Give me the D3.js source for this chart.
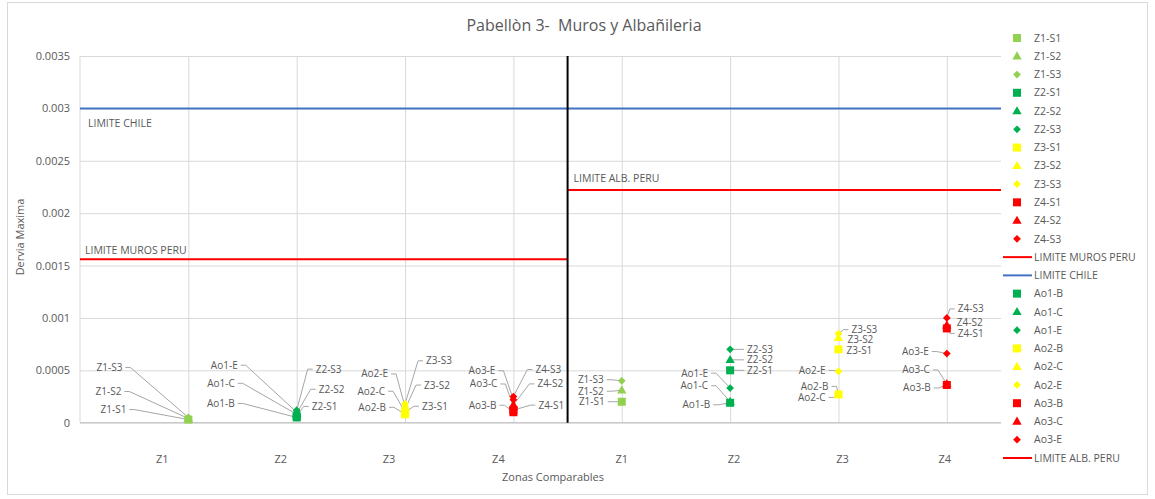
<!DOCTYPE html>
<html>
<head>
<meta charset="utf-8">
<script src="https://cdn.jsdelivr.net/npm/d3@7"></script>
<style>
  html, body { margin: 0; padding: 0; background: #fff; }
  svg { display: block; font-family: "Open Sans", "Liberation Sans", sans-serif; }
  text { white-space: pre; }
</style>
</head>
<body>
<svg id="chart" width="1155" height="499"></svg>
<script>
// ---------------- DATA ----------------
const title = "Pabellòn 3-  Muros y Albañileria";
const yTitle = "Dervia Maxima";
const xTitle = "Zonas Comparables";
const zoneLabels = ["Z1", "Z2", "Z3", "Z4", "Z1", "Z2", "Z3", "Z4"];
const zoneTicks = [1, 2, 3, 4, 5, 6, 7, 8];
const yTicks = [0, 0.0005, 0.001, 0.0015, 0.002, 0.0025, 0.003, 0.0035];

const seriesNames = ["Z1-S1", "Z1-S2", "Z1-S3", "Z2-S1", "Z2-S2", "Z2-S3",
  "Z3-S1", "Z3-S2", "Z3-S3", "Z4-S1", "Z4-S2", "Z4-S3",
  "Ao1-B", "Ao1-C", "Ao1-E", "Ao2-B", "Ao2-C", "Ao2-E", "Ao3-B", "Ao3-C", "Ao3-E"];
// zone index each series belongs to (x = zone in left half, zone + 4 in right half)
const seriesZone = [1, 1, 1, 2, 2, 2, 3, 3, 3, 4, 4, 4, 2, 2, 2, 3, 3, 3, 4, 4, 4];
// values in left half (x = 1..4)
const leftValues = [0.00003, 0.00004, 0.00005, 0.00006, 0.00009, 0.00012,
  0.0001, 0.00013, 0.00018, 0.00012, 0.00017, 0.00025,
  0.00005, 0.00008, 0.0001, 0.00008, 0.0001, 0.00015, 0.0001, 0.00015, 0.00022];
// values in right half (x = 5..8)
const rightValues = [0.0002, 0.00031, 0.0004, 0.0005, 0.0006, 0.0007,
  0.0007, 0.00081, 0.00085, 0.0009, 0.00093, 0.001,
  0.00019, 0.0002, 0.00033, 0.00027, 0.00027, 0.00049, 0.00036, 0.00037, 0.00066];

const refNames = ["LIMITE MUROS PERU", "LIMITE CHILE", "LIMITE ALB. PERU"];
const refValues = [0.00156, 0.003, 0.00222];
const refStart = [0, 0, 4.5];
const refEnd = [4.5, 8.5, 8.5];
const dividerX = 4.5;

// legend order
const legendOrder = ["Z1-S1", "Z1-S2", "Z1-S3", "Z2-S1", "Z2-S2", "Z2-S3",
  "Z3-S1", "Z3-S2", "Z3-S3", "Z4-S1", "Z4-S2", "Z4-S3",
  "LIMITE MUROS PERU", "LIMITE CHILE",
  "Ao1-B", "Ao1-C", "Ao1-E", "Ao2-B", "Ao2-C", "Ao2-E", "Ao3-B", "Ao3-C", "Ao3-E",
  "LIMITE ALB. PERU"];

// ---------------- STYLE / LAYOUT ----------------
const zoneColor = { 1: "#92D050", 2: "#00B050", 3: "#FFFF00", 4: "#FF0000" };
const refColor = { "LIMITE MUROS PERU": "#FF0000", "LIMITE CHILE": "#4472C4", "LIMITE ALB. PERU": "#FF0000" };
const textColor = "#595959";
const gridColor = "#D9D9D9";
const leaderColor = "#A6A6A6";

// label offsets in px relative to marker: [dx, dy, anchor]
const leftLabelOff = {
  "Z1-S1": [-62, -10, "end"], "Z1-S2": [-67, -27, "end"], "Z1-S3": [-66, -50, "end"],
  "Ao1-B": [-62, -14, "end"], "Ao1-C": [-62, -31, "end"], "Ao1-E": [-59, -47, "end"],
  "Z2-S1": [15, -10, "start"], "Z2-S2": [22, -24, "start"], "Z2-S3": [19, -41, "start"],
  "Ao2-B": [-19, -7, "end"], "Ao2-C": [-20, -21, "end"], "Ao2-E": [-17, -33, "end"],
  "Z3-S1": [17, -6, "start"], "Z3-S2": [19, -24, "start"], "Z3-S3": [21, -43, "start"],
  "Ao3-B": [-17, -7, "end"], "Ao3-C": [-16, -23, "end"], "Ao3-E": [-18, -29, "end"],
  "Z4-S1": [25, -5, "start"], "Z4-S2": [24, -21, "start"], "Z4-S3": [22, -27, "start"]
};
const rightLabelOff = {
  "Z1-S1": [-17, 0, "end"], "Z1-S2": [-18, 1, "end"], "Z1-S3": [-18, -1, "end"],
  "Ao1-B": [-20, 2, "end"], "Ao1-C": [-22, -16, "end"], "Ao1-E": [-22, -15, "end"],
  "Z2-S1": [17, 0, "start"], "Z2-S2": [17, 0, "start"], "Z2-S3": [17, 0, "start"],
  "Ao2-B": [-10, -8, "end"], "Ao2-C": [-13, 3, "end"], "Ao2-E": [-13, -1, "end"],
  "Z3-S1": [8, 1, "start"], "Z3-S2": [9, 2, "start"], "Z3-S3": [13, -4, "start"],
  "Ao3-B": [-16, 3, "end"], "Ao3-C": [-17, -14, "end"], "Ao3-E": [-18, -2, "end"],
  "Z4-S1": [11, 5, "start"], "Z4-S2": [10, -3, "start"], "Z4-S3": [11, -9, "start"]
};
const zoneLabelDx = [-26, -16, -16, -15, 0, 4, 4, -2];

function shapeOf(name) {
  const suffix = name.split("-")[1];
  if (suffix === "S1" || suffix === "B") return "square";
  if (suffix === "S2" || suffix === "C") return "triangle";
  return "diamond";
}
function zoneOf(name) { return seriesZone[seriesNames.indexOf(name)]; }

const plot = { left: 80, right: 1001, top: 56, bottom: 422.7 };
const svg = d3.select("#chart");

// chart border
svg.append("rect").attr("x", 7.5).attr("y", 2.5).attr("width", 1140).attr("height", 492)
  .attr("fill", "#fff").attr("stroke", gridColor);

const x = d3.scaleLinear().domain([0, 8.5]).range([plot.left, plot.right]);
const y = d3.scaleLinear().domain([0, 0.0035]).range([plot.bottom, plot.top]);

// horizontal gridlines + y tick labels
const yAxis = d3.axisLeft(y).tickValues(yTicks)
  .tickSize(-(plot.right - plot.left)).tickPadding(10)
  .tickFormat(d => d === 0 ? "0" : String(+d.toFixed(4)));
const gy = svg.append("g").attr("transform", `translate(${plot.left},0)`).call(yAxis);
gy.select(".domain").remove();
gy.selectAll(".tick line").attr("stroke", gridColor);
gy.selectAll(".tick text").attr("fill", textColor).attr("font-size", 11)
  .attr("font-family", "'Open Sans', sans-serif");

// vertical gridlines
const xAxis = d3.axisBottom(x).tickValues(zoneTicks)
  .tickSize(-(plot.bottom - plot.top)).tickFormat("");
const gx = svg.append("g").attr("transform", `translate(0,${plot.bottom})`).call(xAxis);
gx.select(".domain").remove();
gx.selectAll(".tick line").attr("stroke", gridColor);

// axis lines
svg.append("line").attr("x1", plot.left).attr("x2", plot.left)
  .attr("y1", plot.top).attr("y2", plot.bottom).attr("stroke", gridColor);
svg.append("line").attr("x1", plot.left).attr("x2", plot.right)
  .attr("y1", plot.bottom).attr("y2", plot.bottom).attr("stroke", "#BFBFBF");

// zone labels under the axis
svg.append("g").selectAll("text").data(zoneLabels).join("text")
  .attr("x", (d, i) => x(zoneTicks[i]) + zoneLabelDx[i])
  .attr("y", 463).attr("text-anchor", "middle")
  .attr("fill", textColor).attr("font-size", 11).text(d => d);

// reference lines
refNames.forEach((n, i) => {
  svg.append("line")
    .attr("x1", x(refStart[i])).attr("x2", x(refEnd[i]))
    .attr("y1", y(refValues[i])).attr("y2", y(refValues[i]))
    .attr("stroke", refColor[n]).attr("stroke-width", 2);
});
// reference labels
svg.append("text").attr("x", x(0) + 8).attr("y", y(refValues[1]) + 19)
  .attr("fill", textColor).attr("font-size", 10.5).text(refNames[1]);
svg.append("text").attr("x", x(0) + 5).attr("y", y(refValues[0]) - 5)
  .attr("fill", textColor).attr("font-size", 10.5).text(refNames[0]);
svg.append("text").attr("x", x(refStart[2]) + 6).attr("y", y(refValues[2]) - 8)
  .attr("fill", textColor).attr("font-size", 10.5).text(refNames[2]);

// divider
svg.append("line").attr("x1", x(dividerX)).attr("x2", x(dividerX))
  .attr("y1", y(0)).attr("y2", y(0.0035))
  .attr("stroke", "#000").attr("stroke-width", 2);

// marker drawing
function drawMarker(g, shape, color, cx, cy, scale = 1) {
  if (shape === "square") {
    const s = 8 * scale;
    g.append("rect").attr("x", cx - s / 2).attr("y", cy - s / 2)
      .attr("width", s).attr("height", s).attr("fill", color);
  } else if (shape === "triangle") {
    g.append("path")
      .attr("d", d3.symbol().type(d3.symbolTriangle).size(38 * scale * scale)())
      .attr("transform", `translate(${cx},${cy + 0.5})`).attr("fill", color);
  } else {
    g.append("path")
      .attr("d", d3.symbol().type(d3.symbolSquare).size(30 * scale * scale)())
      .attr("transform", `translate(${cx},${cy}) rotate(45)`).attr("fill", color);
  }
}

// points with data labels
const points = [];
seriesNames.forEach((n, i) => {
  points.push({ name: n, xv: seriesZone[i], v: leftValues[i], off: leftLabelOff[n] });
  points.push({ name: n, xv: seriesZone[i] + 4, v: rightValues[i], off: rightLabelOff[n] });
});

const leaderG = svg.append("g");
const labelG = svg.append("g");
points.forEach(p => {
  const px = x(p.xv), py = y(p.v);
  const [dx, dy, anchor] = p.off;
  const lx = px + dx, ly = py + dy;
  labelG.append("text").attr("x", lx).attr("y", ly).attr("dy", "0.35em")
    .attr("text-anchor", anchor).attr("fill", textColor).attr("font-size", 10)
    .text(p.name);
  const dist = Math.hypot(dx, dy);
  if (dist > 12) {
    const sx = anchor === "end" ? lx + 3 : lx - 3;
    const hx = anchor === "end" ? sx + 5 : sx - 5;
    leaderG.append("path")
      .attr("d", `M${sx},${ly}L${hx},${ly}L${px},${py}`)
      .attr("fill", "none").attr("stroke", leaderColor).attr("stroke-width", 1);
  }
});
const markG = svg.append("g");
points.forEach(p => {
  drawMarker(markG, shapeOf(p.name), zoneColor[zoneOf(p.name)], x(p.xv), y(p.v));
});

// legend
const legG = svg.append("g");
legendOrder.forEach((n, i) => {
  const ly = 38 + i * 18.26;
  if (refNames.includes(n)) {
    legG.append("line").attr("x1", 1003).attr("x2", 1032).attr("y1", ly).attr("y2", ly)
      .attr("stroke", refColor[n]).attr("stroke-width", 2);
  } else {
    drawMarker(legG, shapeOf(n), zoneColor[zoneOf(n)], 1017, ly);
  }
  legG.append("text").attr("x", 1034).attr("y", ly).attr("dy", "0.35em")
    .attr("fill", textColor).attr("font-size", 10.5).text(n);
});

// titles
svg.append("text").attr("x", 584).attr("y", 31).attr("text-anchor", "middle")
  .attr("fill", textColor).attr("font-size", 16).text(title);
svg.append("text").attr("transform", "translate(24,237) rotate(-90)")
  .attr("text-anchor", "middle").attr("fill", textColor).attr("font-size", 11).text(yTitle);
svg.append("text").attr("x", 553).attr("y", 481).attr("text-anchor", "middle")
  .attr("fill", textColor).attr("font-size", 11).text(xTitle);
</script>
</body>
</html>
